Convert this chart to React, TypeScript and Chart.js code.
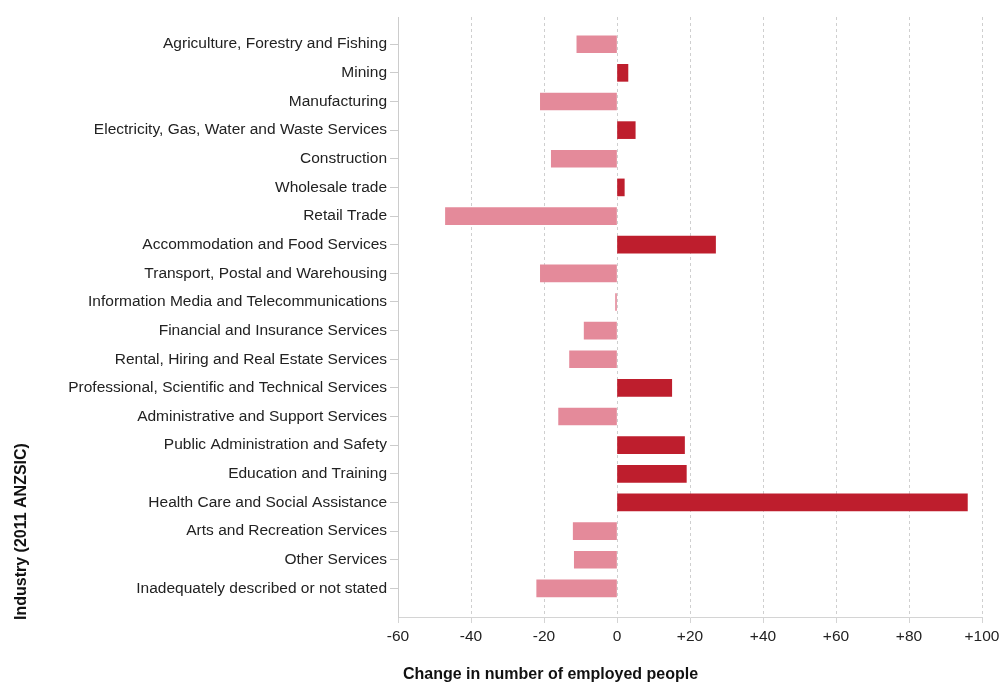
import React, { useEffect, useRef } from "react";
import { Chart, registerables } from "chart.js";

Chart.register(...registerables);

const categories: string[] = [
  "Agriculture, Forestry and Fishing",
  "Mining",
  "Manufacturing",
  "Electricity, Gas, Water and Waste Services",
  "Construction",
  "Wholesale trade",
  "Retail Trade",
  "Accommodation and Food Services",
  "Transport, Postal and Warehousing",
  "Information Media and Telecommunications",
  "Financial and Insurance Services",
  "Rental, Hiring and Real Estate Services",
  "Professional, Scientific and Technical Services",
  "Administrative and Support Services",
  "Public Administration and Safety",
  "Education and Training",
  "Health Care and Social Assistance",
  "Arts and Recreation Services",
  "Other Services",
  "Inadequately described or not stated",
];

const changeValues: number[] = [
  -11, 3, -21, 5, -18, 2, -47, 27, -21, -0.4, -9, -13, 15, -16, 18.5, 19, 96, -12, -11.7, -22,
];

const xTickValues: number[] = [-60, -40, -20, 0, 20, 40, 60, 80, 100];

const xTitle = "Change in number of employed people";
const yTitle = "Industry (2011 ANZSIC)";

const NEG_COLOR = "#E48A9A";
const POS_COLOR = "#BE1E2D";
const FONT = "'Liberation Sans', Arial, sans-serif";

const axisTitles = {
  id: "axisTitles",
  afterDraw(chart: any) {
    const ctx = chart.ctx;
    ctx.save();
    ctx.fillStyle = "#111";
    ctx.font = `bold 16px ${FONT}`;
    ctx.textBaseline = "middle";
    ctx.textAlign = "left";
    ctx.fillText(xTitle, chart.chartArea.left + 5, 675);
    ctx.translate(22, chart.chartArea.bottom + 3);
    ctx.rotate(-Math.PI / 2);
    ctx.fillText(yTitle, 0, 0);
    ctx.restore();
  },
};

export default function App() {
  const canvasRef = useRef<HTMLCanvasElement | null>(null);

  useEffect(() => {
    document.body.style.margin = "0";
    const canvas = canvasRef.current;
    if (!canvas) return;
    const chart = new Chart(canvas, {
      type: "bar",
      data: {
        datasets: [
          {
            data: changeValues.map((v, i) => ({ x: v, y: i })),
            backgroundColor: changeValues.map((v) => (v < 0 ? NEG_COLOR : POS_COLOR)),
            borderWidth: 0,
            barThickness: 17,
          },
        ],
      },
      plugins: [axisTitles],
      options: {
        indexAxis: "y",
        animation: false,
        responsive: true,
        maintainAspectRatio: false,
        layout: { padding: { top: 17, right: 19, left: 0, bottom: 0 } },
        plugins: {
          legend: { display: false },
          tooltip: { enabled: false },
        },
        scales: {
          x: {
            type: "linear",
            min: -60,
            max: 100,
            offset: false,
            afterBuildTicks: (scale: any) => {
              scale.ticks = xTickValues.map((v) => ({ value: v }));
            },
            afterFit: (scale: any) => {
              scale.height = 67;
              scale.paddingLeft = 0;
              scale.paddingRight = 0;
            },
            ticks: {
              color: "#222",
              font: { family: FONT, size: 15.5 },
              padding: 4,
              maxRotation: 0,
              autoSkip: false,
              callback: (v: any) => (Number(v) > 0 ? "+" + v : String(v)),
            },
            grid: {
              offset: false,
              color: "#cfcfcf",
              lineWidth: 1,
              drawTicks: true,
              tickLength: 6,
              tickColor: "#d4d4d4",
            },
            border: { display: true, color: "#d4d4d4", dash: [3, 3] },
            title: { display: false },
          },
          y: {
            type: "linear",
            reverse: true,
            min: -0.95,
            max: 20,
            offset: false,
            afterBuildTicks: (scale: any) => {
              scale.ticks = categories.map((_, i) => ({ value: i }));
            },
            afterFit: (scale: any) => {
              scale.width = 398;
              scale.paddingTop = 0;
              scale.paddingBottom = 0;
            },
            ticks: {
              color: "#222",
              font: { family: FONT, size: 15.5 },
              padding: 3,
              autoSkip: false,
              callback: (v: any) => categories[Number(v)] ?? "",
            },
            grid: {
              offset: false,
              drawOnChartArea: false,
              drawTicks: true,
              tickLength: 8,
              tickColor: "#cccccc",
              color: "#cccccc",
            },
            border: { display: true, color: "#cccccc" },
            title: { display: false },
          },
        },
      } as any,
    });
    return () => chart.destroy();
  }, []);

  return (
    <div style={{ position: "absolute", left: 0, top: 0, width: 1001, height: 684, background: "#fff" }}>
      <canvas ref={canvasRef} />
    </div>
  );
}
